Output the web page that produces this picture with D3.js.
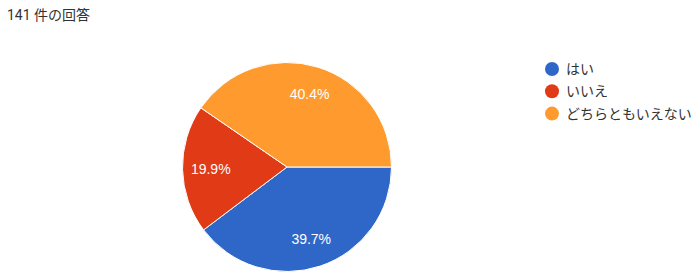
<!DOCTYPE html>
<html>
<head>
<meta charset="utf-8">
<script src="https://cdn.jsdelivr.net/npm/d3@7"></script>
<style>
  body { margin: 0; background: #fff; }
  svg { display: block; }
</style>
</head>
<body>
<div id="vis"></div>
<script>
// データ
const categories = ["はい", "いいえ", "どちらともいえない"];
const counts = [56, 28, 57];
const totalLabel = "141 件の回答";
const colors = ["#2f67c9", "#e03a17", "#ff9b2e"];

const width = 700, height = 278;
const cx = 287, cy = 167, r = 104.5;

const svg = d3.select("#vis")
    .append("svg")
    .attr("width", width)
    .attr("height", height);

// タイトル
svg.append("text")
    .attr("x", 7)
    .attr("y", 20)
    .attr("font-family", "Roboto, 'Noto Sans CJK JP', sans-serif")
    .attr("font-size", 14)
    .attr("fill", "#333")
    .text(totalLabel);

const total = d3.sum(counts);
const color = d3.scaleOrdinal().domain(categories).range(colors);

const pie = d3.pie()
    .value(d => d.value)
    .sort(null)
    .startAngle(Math.PI / 2)
    .endAngle(Math.PI / 2 + 2 * Math.PI);

const data = categories.map((c, i) => ({ category: c, value: counts[i] }));
const arcs = pie(data);

const arc = d3.arc().innerRadius(0).outerRadius(r);
const labelArc = d3.arc().innerRadius(r * 0.73).outerRadius(r * 0.73);

const g = svg.append("g").attr("transform", `translate(${cx},${cy})`);

g.selectAll("path")
    .data(arcs)
    .enter()
    .append("path")
    .attr("d", arc)
    .attr("fill", d => color(d.data.category))
    .attr("stroke", "#fff")
    .attr("stroke-width", 1);

g.selectAll("text")
    .data(arcs)
    .enter()
    .append("text")
    .attr("transform", d => `translate(${labelArc.centroid(d)})`)
    .attr("text-anchor", "middle")
    .attr("dy", "0.35em")
    .attr("font-family", "Arial, 'Liberation Sans', sans-serif")
    .attr("font-size", 14)
    .attr("fill", "#fff")
    .text(d => (d.data.value / total * 100).toFixed(1) + "%");

// 凡例
const legend = svg.append("g").attr("transform", "translate(552,69)");
const item = legend.selectAll("g")
    .data(categories)
    .enter()
    .append("g")
    .attr("transform", (d, i) => `translate(0,${i * 22.3})`);

item.append("circle")
    .attr("r", 7)
    .attr("fill", d => color(d));

item.append("text")
    .attr("x", 14)
    .attr("dy", "0.35em")
    .attr("font-family", "'Noto Sans CJK JP', sans-serif")
    .attr("font-size", 14)
    .attr("fill", "#333")
    .text(d => d);
</script>
</body>
</html>
